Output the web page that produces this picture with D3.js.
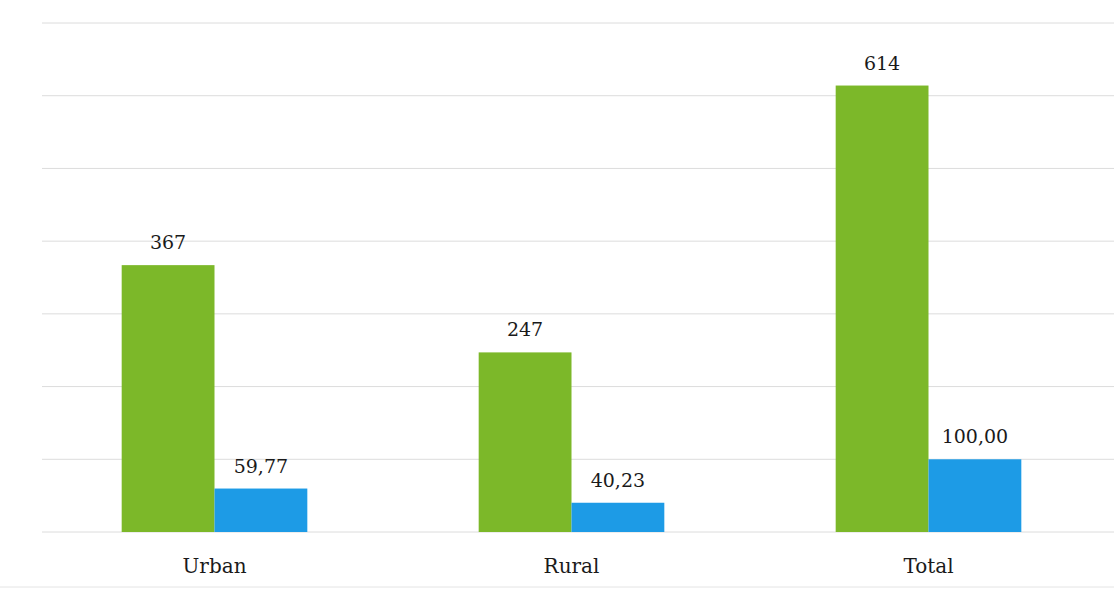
<!DOCTYPE html>
<html>
<head>
<meta charset="utf-8">
<script src="https://cdn.jsdelivr.net/npm/d3@7"></script>
<style>
  body { margin: 0; background: #fff; }
  text { font-family: "DejaVu Serif", "Liberation Serif", serif; fill: #1a1a1a; }
</style>
</head>
<body>
<div id="chart"></div>
<script>
// Datos
const categorias = ["Urban", "Rural", "Total"];
const series = ["numero", "porcentaje"];
const numero = [367, 247, 614];
const porcentaje = [59.77, 40.23, 100.00];
const etiquetasNumero = ["367", "247", "614"];
const etiquetasPorcentaje = ["59,77", "40,23", "100,00"];
const ticks = [0, 100, 200, 300, 400, 500, 600, 700];

const colores = { numero: "#7cb829", porcentaje: "#1d9be6" };

const svgWidth = 1114, svgHeight = 591;

const svg = d3.select("#chart")
    .append("svg")
    .attr("width", svgWidth)
    .attr("height", svgHeight);

// Escalas
const x = d3.scaleBand()
    .domain(categorias)
    .range([36, 1107])
    .paddingInner(0.48)
    .paddingOuter(0.24);

const xSub = d3.scaleBand()
    .domain(series)
    .range([0, x.bandwidth()]);

const y = d3.scaleLinear()
    .domain([0, 700])
    .range([532, 23]);

// Rejilla
svg.append("g")
    .selectAll("line")
    .data(ticks)
    .join("line")
    .attr("x1", 42)
    .attr("x2", svgWidth)
    .attr("y1", d => y(d))
    .attr("y2", d => y(d))
    .attr("stroke", "#dcdcdc")
    .attr("stroke-width", 1);

// Línea inferior de la página
svg.append("line")
    .attr("x1", 0).attr("x2", svgWidth)
    .attr("y1", 587).attr("y2", 587)
    .attr("stroke", "#e4e4e4");

// Barras
const datos = categorias.map((c, i) => ({
    cat: c,
    valores: [
        { serie: "numero", v: numero[i], txt: etiquetasNumero[i] },
        { serie: "porcentaje", v: porcentaje[i], txt: etiquetasPorcentaje[i] }
    ]
}));

const grupos = svg.append("g")
    .selectAll("g")
    .data(datos)
    .join("g")
    .attr("transform", d => `translate(${x(d.cat)},0)`);

grupos.selectAll("rect")
    .data(d => d.valores)
    .join("rect")
    .attr("x", d => xSub(d.serie))
    .attr("width", xSub.bandwidth())
    .attr("y", d => y(d.v))
    .attr("height", d => y(0) - y(d.v))
    .attr("fill", d => colores[d.serie]);

grupos.selectAll("text.valor")
    .data(d => d.valores)
    .join("text")
    .attr("class", "valor")
    .attr("x", d => xSub(d.serie) + xSub.bandwidth() / 2)
    .attr("y", d => y(d.v) - 16)
    .attr("text-anchor", "middle")
    .attr("font-size", 19)
    .text(d => d.txt);

// Eje X (etiquetas)
svg.append("g")
    .attr("transform", `translate(0, ${y(0)})`)
    .call(d3.axisBottom(x).tickSize(0).tickPadding(27))
    .call(g => g.select(".domain").remove())
    .call(g => g.selectAll("text")
        .attr("font-size", 20)
        .attr("font-family", "DejaVu Serif, Liberation Serif, serif")
        .attr("fill", "#1a1a1a"));
</script>
</body>
</html>
